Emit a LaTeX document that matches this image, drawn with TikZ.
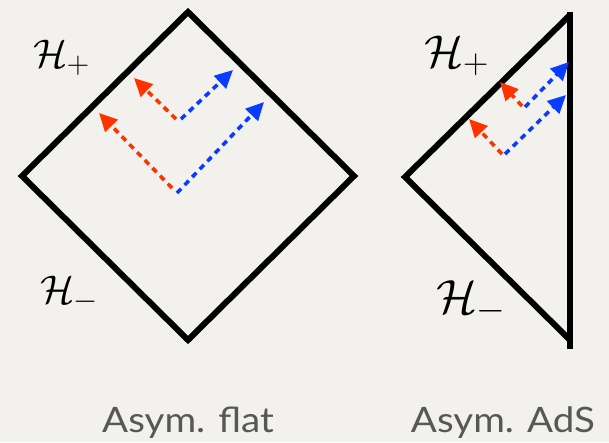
\RequirePackage{fix-cm}
\documentclass[tikz,border=0pt]{standalone}
\usepackage{fontspec}
\newfontfamily\capfont[FakeStretch=1.1]{Lato}
\DeclareMathSizes{40}{40}{31}{22}
\DeclareMathSizes{46}{46}{35}{25}
\DeclareMathSizes{48}{48}{37}{26}
\usetikzlibrary{arrows.meta}
\definecolor{bg}{HTML}{F2F1EE}
\definecolor{rayred}{HTML}{FF3300}
\definecolor{rayblue}{HTML}{0A3CFF}
\definecolor{captiongray}{HTML}{575757}
\begin{document}
\begin{tikzpicture}[x=1pt,y=-1pt,
  wall/.style={line width=6pt,black,line join=miter,line cap=butt},
  ray/.style={line width=3.6pt,dash pattern=on 6pt off 5pt,-{Triangle[length=18pt,width=17pt]}},
  redray/.style={ray,rayred},
  blueray/.style={ray,rayblue},
  horizon/.style={font=\fontsize{40}{46}\selectfont,inner sep=0pt,anchor=base west},
  bighorizon/.style={horizon,font=\fontsize{46}{52}\selectfont},
  hugehorizon/.style={horizon,font=\fontsize{48}{54}\selectfont},
  caption/.style={font=\capfont\fontsize{35}{40}\selectfont,text=captiongray,inner sep=0pt,anchor=base}]
\fill[bg] (0,0) rectangle (609,442);
\useasboundingbox (0,0) rectangle (609,442);
% left diamond
\coordinate (Lt) at (188,12);
\coordinate (Ll) at (22,176);
\coordinate (Lb) at (188,340);
\coordinate (Lr) at (354,176);
\draw[wall] (Lt) -- (Ll) -- (Lb) -- (Lr) -- cycle;
% right triangle
\coordinate (Rt) at (570,15);
\coordinate (Rl) at (405,177);
\coordinate (Rb) at (570,340);
\coordinate (Rv) at (570,349);
\draw[wall] (Rt) -- (Rl) -- (Rb);
\draw[wall] (570,12) -- (Rv);
% left rays
\coordinate (a1) at (176,119);
\coordinate (a1r) at (134,78);
\coordinate (a2) at (181,119);
\coordinate (a2b) at (233,70);
\coordinate (b1) at (172,188);
\coordinate (b1r) at (99,113);
\coordinate (b2) at (177,193);
\coordinate (b2b) at (264,102);
\draw[redray] (a1) -- (a1r);
\draw[blueray] (a2) -- (a2b);
\draw[redray] (b1) -- (b1r);
\draw[blueray] (b2) -- (b2b);
% right rays
\coordinate (c1) at (522,106);
\coordinate (c1r) at (500,82);
\coordinate (c2) at (525,107);
\coordinate (c2b) at (569,62);
\coordinate (d1) at (502,154);
\coordinate (d1r) at (469,119);
\coordinate (d2) at (505,154);
\coordinate (d2b) at (566,95);
\draw[redray] (c1) -- (c1r);
\draw[blueray] (c2) -- (c2b);
\draw[redray] (d1) -- (d1r);
\draw[blueray] (d2) -- (d2b);
% labels
\node[horizon] (hpl) at (33,67) {$\mathcal{H}_+$};
\node[horizon] (hml) at (40,303) {$\mathcal{H}_-$};
\node[bighorizon] (hpr) at (424,67) {$\mathcal{H}_+$};
\node[hugehorizon] (hmr) at (436,313) {$\mathcal{H}_-$};
\node[caption] (capl) at (188,432) {Asym. flat};
\node[caption] (capr) at (503,432) {Asym. AdS};
\end{tikzpicture}
\end{document}
